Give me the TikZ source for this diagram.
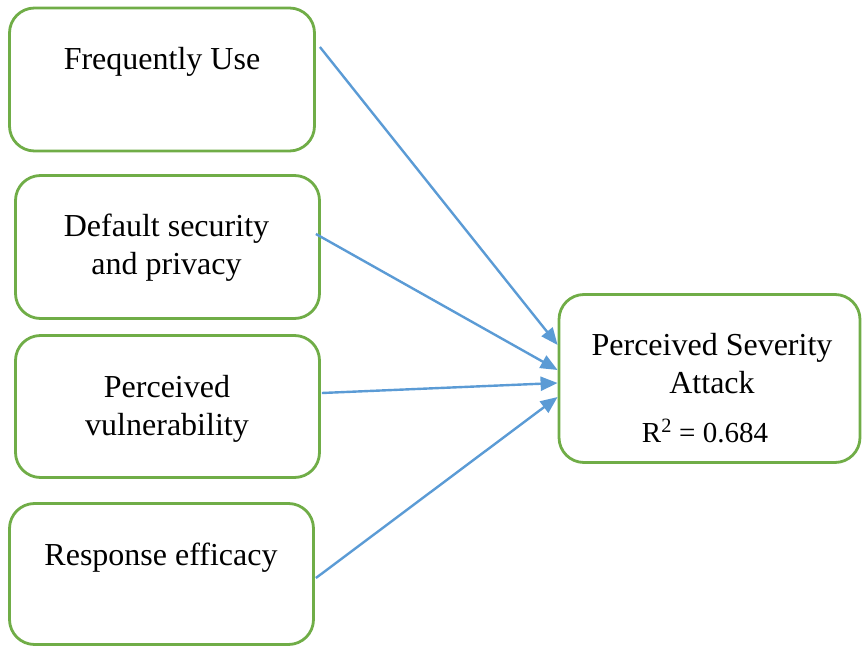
\documentclass[tikz,border=0pt]{standalone}
\usepackage{fontspec}
\setmainfont{Liberation Serif}
\usetikzlibrary{arrows.meta,calc}
\definecolor{boxgreen}{RGB}{112,173,71}
\definecolor{arrblue}{RGB}{91,155,213}
\begin{document}
\begin{tikzpicture}[x=1pt,y=-1pt,
  box/.style={draw=boxgreen,line width=2.8pt,rounded corners=25pt,fill=white,inner sep=0pt},
  lbl/.style={inner sep=0pt,align=center,anchor=base,font=\fontsize{32}{38}\selectfont},
  arr/.style={draw=arrblue,line width=2.4pt,-{Triangle[length=17pt,width=14pt]}}]
\useasboundingbox (0,0) rectangle (862,647);
% boxes
\node[box,minimum width=305pt,minimum height=143pt] (fu) at (162,79.5) {};
\node[box,minimum width=304pt,minimum height=143pt] (ds) at (167.5,247) {};
\node[box,minimum width=304pt,minimum height=142pt] (pv) at (167.5,406.5) {};
\node[box,minimum width=304pt,minimum height=141pt] (re) at (161.5,574) {};
\node[box,minimum width=301pt,minimum height=168pt] (ps) at (709.5,378.5) {};
% labels (multi-line labels are placed by their last baseline)
\node[lbl] (fut) at (162,70) {Frequently Use};
\node[lbl] (dst) at (166.5,274) {Default security\\and privacy};
\node[lbl] (pvt) at (167,435) {Perceived\\vulnerability};
\node[lbl] (ret) at (161,565) {Response efficacy};
\node[lbl] (pst) at (712,393) {Perceived Severity\\Attack};
\node[inner sep=0pt,anchor=base,font=\fontsize{29}{34}\selectfont] (r2) at (705,442) {R\textsuperscript{2} = 0.684};
% connector ends
\coordinate (s1) at ($(fu.east)+(4,-32.5)$);
\coordinate (s2) at ($(ds.east)+(-5,-13)$);
\coordinate (s3) at ($(pv.east)+(1,-13.5)$);
\coordinate (s4) at ($(re.east)+(1,4)$);
\coordinate (t1) at ($(ps.west)+(0,-33.5)$);
\coordinate (t2) at ($(ps.west)+(0,-8.5)$);
\coordinate (t3) at ($(ps.west)+(0,4.5)$);
\coordinate (t4) at ($(ps.west)+(0,18.5)$);
\draw[arr] (s1) -- (t1);
\draw[arr] (s2) -- (t2);
\draw[arr] (s3) -- (t3);
\draw[arr] (s4) -- (t4);
\end{tikzpicture}
\end{document}
